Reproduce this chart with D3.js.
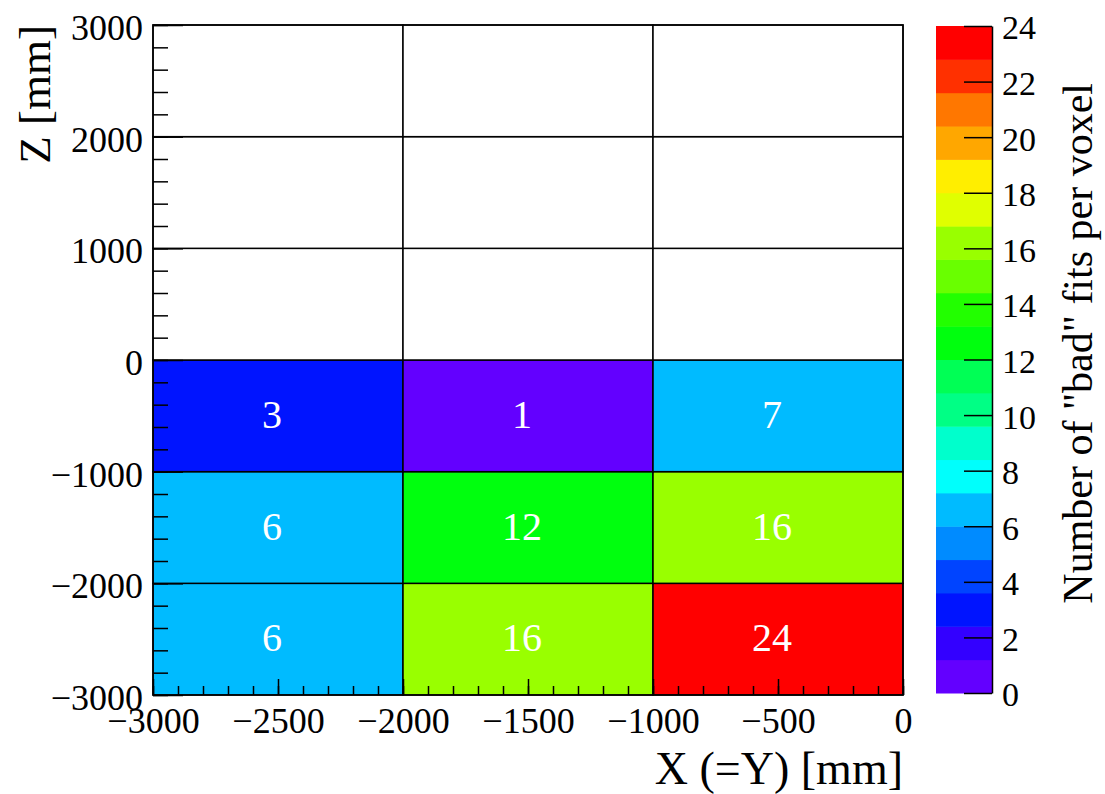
<!DOCTYPE html>
<html>
<head>
<meta charset="utf-8">
<script src="https://cdn.jsdelivr.net/npm/d3@7"></script>
<style>
  body { margin: 0; background: #fff; }
  svg { display: block; }
</style>
</head>
<body>
<div id="chart"></div>
<script>
// bin edges (mm)
const xEdges = [-3000, -2000, -1000, 0];
const zEdges = [-3000, -2000, -1000, 0, 1000, 2000, 3000];

// counts per voxel, row by row from z = -3000 upwards
const counts = [
    [6, 16, 24],
    [6, 12, 16],
    [3, 1, 7],
    [0, 0, 0],
    [0, 0, 0],
    [0, 0, 0]
];

const xTicks = [-3000, -2500, -2000, -1500, -1000, -500, 0];
const zTicks = [-3000, -2000, -1000, 0, 1000, 2000, 3000];
const colorTicks = [0, 2, 4, 6, 8, 10, 12, 14, 16, 18, 20, 22, 24];

// ROOT pretty palette, 20 contours
const palette = [
    "#6300ff", "#3300ff", "#0014ff", "#0044ff", "#008bff",
    "#00bbff", "#00fffc", "#00ffcc", "#00ff85", "#00ff55",
    "#00ff0e", "#22ff00", "#69ff00", "#99ff00", "#e0ff00",
    "#ffee00", "#ffa700", "#ff7700", "#ff3000", "#ff0000"
];

const serif = '"Liberation Serif", "Times New Roman", Tinos, "DejaVu Serif", serif';
const fmt = d3.format("d");

const width = 1105;
const height = 794;
const frame = { left: 153, right: 903, top: 25, bottom: 695 };

const svg = d3.select("#chart")
    .append("svg")
    .attr("width", width)
    .attr("height", height)
    .style("font-family", serif);

const x = d3.scaleLinear().domain([-3000, 0]).range([frame.left, frame.right]);
const y = d3.scaleLinear().domain([-3000, 3000]).range([frame.bottom, frame.top]);
const color = d3.scaleQuantize().domain([0, 24]).range(palette);

// flatten bins
const cells = [];
counts.forEach((row, j) => {
    row.forEach((v, i) => {
        cells.push({ x0: xEdges[i], x1: xEdges[i + 1], z0: zEdges[j], z1: zEdges[j + 1], v: v });
    });
});

svg.append("g")
    .selectAll("rect")
    .data(cells)
    .enter()
    .append("rect")
    .attr("x", d => x(d.x0))
    .attr("y", d => y(d.z1))
    .attr("width", d => x(d.x1) - x(d.x0))
    .attr("height", d => y(d.z0) - y(d.z1))
    .style("fill", d => d.v > 0 ? color(d.v) : "#fff")
    .style("stroke", "#000")
    .style("stroke-width", 1.5);

svg.append("g")
    .selectAll("text")
    .data(cells.filter(d => d.v > 0))
    .enter()
    .append("text")
    .attr("x", d => (x(d.x0) + x(d.x1)) / 2 - 6)
    .attr("y", d => (y(d.z0) + y(d.z1)) / 2 - 2)
    .attr("text-anchor", "middle")
    .attr("dy", "0.35em")
    .style("font-family", serif)
    .style("font-size", "40px")
    .style("fill", "#fff")
    .text(d => d.v);

// minor ticks first, then majors
svg.append("g")
    .attr("transform", `translate(0,${frame.bottom})`)
    .call(d3.axisBottom(x).tickValues(d3.range(-3000, 1, 100)).tickSize(-9).tickSizeOuter(0).tickFormat(""))
    .call(g => g.select(".domain").remove());

svg.append("g")
    .attr("transform", `translate(${frame.left},0)`)
    .call(d3.axisLeft(y).tickValues(d3.range(-3000, 3001, 200)).tickSize(-15).tickSizeOuter(0).tickFormat(""))
    .call(g => g.select(".domain").remove());

const xAxis = svg.append("g")
    .attr("transform", `translate(0,${frame.bottom})`)
    .call(d3.axisBottom(x).tickValues(xTicks).tickSize(-16).tickSizeOuter(0).tickPadding(12).tickFormat(fmt))
    .call(g => g.select(".domain").remove());

const yAxis = svg.append("g")
    .attr("transform", `translate(${frame.left},0)`)
    .call(d3.axisLeft(y).tickValues(zTicks).tickSize(-30).tickSizeOuter(0).tickPadding(10).tickFormat(fmt))
    .call(g => g.select(".domain").remove());

svg.selectAll("g").attr("font-family", null);
xAxis.selectAll("text").style("font-family", serif).style("font-size", "36px").style("fill", "#000");
yAxis.selectAll("text").style("font-family", serif).style("font-size", "36px").style("fill", "#000").attr("dy", "0.4em");

svg.selectAll(".tick line").style("stroke", "#000").style("stroke-width", 1.5);

// frame
svg.append("rect")
    .attr("x", frame.left)
    .attr("y", frame.top)
    .attr("width", frame.right - frame.left)
    .attr("height", frame.bottom - frame.top)
    .style("fill", "none")
    .style("stroke", "#000")
    .style("stroke-width", 1.5);

// axis titles
svg.append("text")
    .attr("x", frame.right)
    .attr("y", 784)
    .attr("text-anchor", "end")
    .style("font-family", serif)
    .style("font-size", "46px")
    .text("X (=Y) [mm]");

svg.append("text")
    .attr("transform", `translate(50,${frame.top}) rotate(-90)`)
    .attr("text-anchor", "end")
    .style("font-family", serif)
    .style("font-size", "45px")
    .text("Z [mm]");

// colour bar
const bar = { left: 936, right: 992, top: 26, bottom: 693 };
const zc = d3.scaleLinear().domain([0, 24]).range([bar.bottom, bar.top]);
const bands = d3.range(palette.length).map(i => color.invertExtent(palette[i]));

svg.append("g")
    .selectAll("rect")
    .data(bands)
    .enter()
    .append("rect")
    .attr("x", bar.left)
    .attr("y", d => zc(d[1]))
    .attr("width", bar.right - bar.left)
    .attr("height", d => zc(d[0]) - zc(d[1]) + 0.5)
    .style("fill", (d, i) => palette[i]);

const cAxis = svg.append("g")
    .attr("transform", `translate(${bar.right},0)`)
    .call(d3.axisRight(zc).tickValues(colorTicks).tickSize(-28).tickSizeOuter(0).tickPadding(10).tickFormat(fmt));
cAxis.attr("font-family", null);
cAxis.select(".domain").style("stroke", "#000").style("stroke-width", 1.5);
cAxis.selectAll(".tick line").style("stroke", "#000").style("stroke-width", 1.5);
cAxis.selectAll("text").style("font-family", serif).style("font-size", "34px").style("fill", "#000").attr("dy", "0.38em");

svg.append("text")
    .attr("transform", `translate(1092,83) rotate(-90)`)
    .attr("text-anchor", "end")
    .style("font-family", serif)
    .style("font-size", "42px")
    .text('Number of "bad" fits per voxel');
</script>
</body>
</html>
